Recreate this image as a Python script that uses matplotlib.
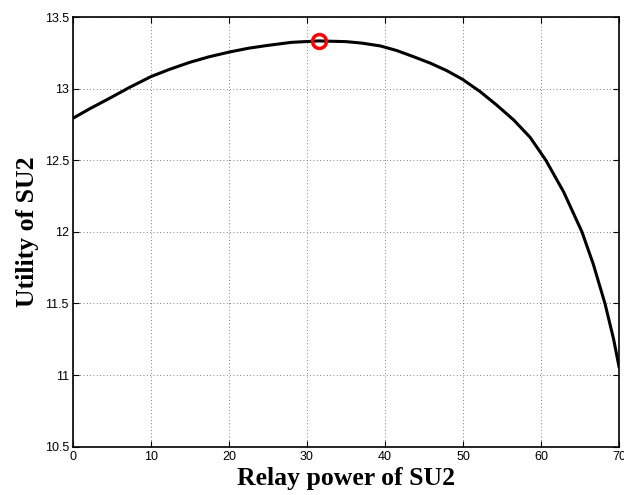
import matplotlib
matplotlib.use("Agg")
import matplotlib.pyplot as plt

# Data
relay_power = [0, 2.1, 4.7, 7.3, 10.0, 12.4, 15.0, 17.5, 20.1, 22.5, 25, 28, 31.5,
               35, 37, 39.4, 41.5, 43.6, 45.8, 47.9, 49.9, 52.2, 54.3, 56.5, 58.6,
               60.6, 62.9, 65.25, 66.7, 68.2, 69.3, 70]
utility = [12.793, 12.858, 12.933, 13.01, 13.084, 13.135, 13.184, 13.223, 13.256,
           13.282, 13.302, 13.323, 13.333, 13.328, 13.318, 13.298, 13.266, 13.224,
           13.178, 13.126, 13.066, 12.979, 12.886, 12.781, 12.66, 12.502, 12.279,
           12.0, 11.775, 11.5, 11.253, 11.059]
opt_x = [31.5]
opt_y = [13.333]
x_ticks = [0, 10, 20, 30, 40, 50, 60, 70]
y_ticks = [10.5, 11, 11.5, 12, 12.5, 13, 13.5]

fig = plt.figure(figsize=(6.24, 4.95), dpi=100)
ax = fig.add_axes([73/624, 1 - 446.7/495, (619 - 73)/624, (446.7 - 17)/495])

ax.plot(relay_power, utility, color='black', linewidth=2.2, solid_joinstyle='round')
ax.plot(opt_x, opt_y, 'o', markerfacecolor='none', markeredgecolor='red',
        markersize=10, markeredgewidth=2.5)

ax.set_xlim(0, 70)
ax.set_ylim(10.5, 13.5)
ax.set_xticks(x_ticks)
ax.set_yticks(y_ticks)
ax.set_xticklabels([str(v) for v in x_ticks], fontfamily='Liberation Sans', fontsize=9)
ax.set_yticklabels([('%g' % v) for v in y_ticks], fontfamily='Liberation Sans', fontsize=9)
ax.tick_params(direction='in', top=True, right=True, length=4, width=0.8, pad=3)
ax.grid(True, linestyle=(0, (1, 3)), color='#555555', linewidth=0.6)
for s in ax.spines.values():
    s.set_linewidth(1.2)

ax.set_xlabel('Relay power of SU2', fontfamily='Liberation Serif', fontweight='bold',
              fontsize=18.5, labelpad=3)
ax.set_ylabel('Utility of SU2', fontfamily='Liberation Serif', fontweight='bold',
              fontsize=18.5, labelpad=4)

fig.savefig('out.png', dpi=100)
